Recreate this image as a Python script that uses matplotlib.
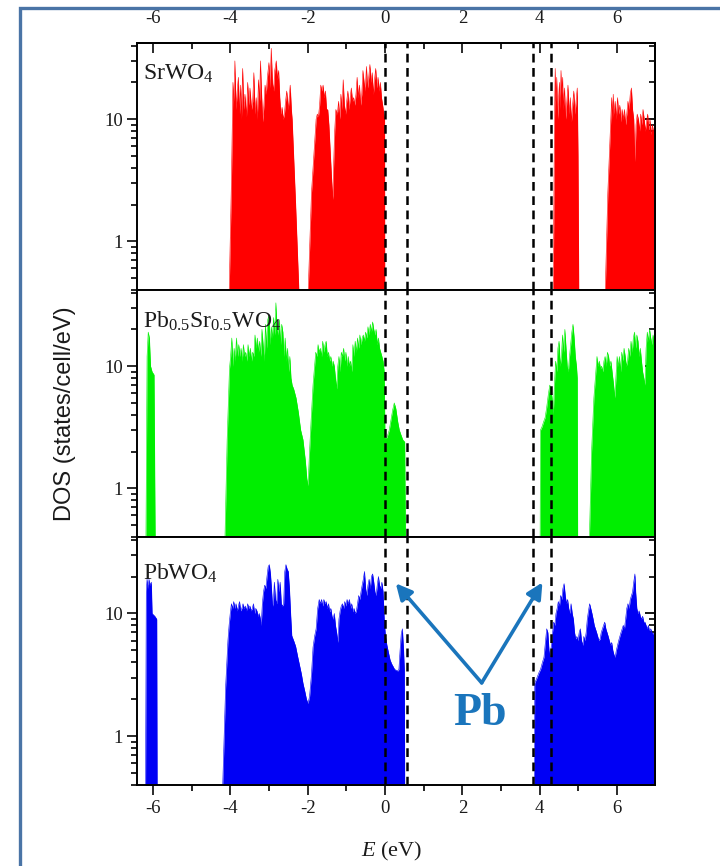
import numpy as np
import matplotlib
matplotlib.use("Agg")
import matplotlib.pyplot as plt
from matplotlib.ticker import MultipleLocator, LogLocator, NullFormatter, FuncFormatter
from matplotlib.patches import Rectangle

plt.rcParams['font.family'] = ['Liberation Serif', 'DejaVu Serif']
plt.rcParams['mathtext.fontset'] = 'custom'
plt.rcParams['mathtext.rm'] = 'Liberation Serif'
plt.rcParams['mathtext.it'] = 'Liberation Serif:italic'
plt.rcParams['mathtext.bf'] = 'Liberation Serif:bold'
plt.rcParams['axes.unicode_minus'] = False

# ---------------------------------------------------------------------------
# Total density of states, (energy in eV, DOS in states/cell/eV).
# A value of 0.01 marks an empty gap region.
# ---------------------------------------------------------------------------
srwo4_dos = np.array([
    (-4.05, 0.01), (-4.03, 0.35), (-3.97, 3), (-3.93, 20), (-3.90, 14), (-3.88, 30),
    (-3.85, 12), (-3.82, 17), (-3.79, 22), (-3.76, 11), (-3.73, 19), (-3.71, 10),
    (-3.68, 26), (-3.65, 12), (-3.62, 16), (-3.58, 10.5), (-3.55, 20), (-3.52, 13),
    (-3.49, 18), (-3.45, 12), (-3.42, 14), (-3.39, 24), (-3.36, 11), (-3.33, 15),
    (-3.30, 10), (-3.27, 21), (-3.24, 14), (-3.22, 30), (-3.19, 16), (-3.16, 9.5),
    (-3.13, 13), (-3.10, 19), (-3.07, 16), (-3.04, 22), (-3.00, 29), (-2.97, 18),
    (-2.94, 38), (-2.91, 20), (-2.88, 17), (-2.85, 25), (-2.81, 30), (-2.78, 21),
    (-2.75, 25), (-2.72, 15), (-2.69, 11), (-2.66, 12.5), (-2.63, 10), (-2.60, 11),
    (-2.57, 14), (-2.54, 17), (-2.50, 12), (-2.47, 16), (-2.45, 19), (-2.42, 12),
    (-2.40, 10), (-2.31, 2), (-2.22, 0.35), (-2.21, 0.01),
    (-2.00, 0.01), (-1.99, 0.35), (-1.90, 2.5), (-1.78, 10), (-1.75, 11), (-1.72, 10.5),
    (-1.69, 13), (-1.66, 19), (-1.63, 17), (-1.60, 19), (-1.57, 15), (-1.54, 17),
    (-1.51, 12), (-1.48, 12), (-1.45, 9), (-1.41, 5), (-1.37, 2.8), (-1.35, 2.2),
    (-1.33, 4), (-1.30, 8), (-1.27, 12), (-1.23, 11), (-1.20, 14), (-1.17, 10),
    (-1.14, 16), (-1.11, 12), (-1.08, 21), (-1.05, 13), (-1.02, 11), (-0.99, 14),
    (-0.96, 17), (-0.93, 12), (-0.90, 15), (-0.87, 18), (-0.84, 14), (-0.81, 15),
    (-0.78, 13), (-0.75, 16), (-0.72, 22), (-0.69, 15), (-0.66, 19), (-0.63, 13),
    (-0.60, 16), (-0.57, 25), (-0.54, 20), (-0.51, 17), (-0.48, 27), (-0.45, 18),
    (-0.42, 22), (-0.39, 28), (-0.36, 20), (-0.33, 24), (-0.30, 16), (-0.27, 21),
    (-0.24, 26), (-0.21, 18), (-0.18, 22), (-0.15, 17), (-0.12, 20), (-0.09, 15),
    (-0.06, 13), (-0.03, 11), (-0.01, 10), (0.00, 0.01),
    (4.34, 0.01), (4.35, 0.4), (4.38, 9), (4.40, 26), (4.42, 14), (4.44, 22),
    (4.46, 10), (4.48, 13), (4.51, 20), (4.53, 12), (4.55, 25), (4.57, 16),
    (4.59, 22), (4.61, 12), (4.64, 18), (4.67, 10), (4.70, 14), (4.73, 19),
    (4.76, 11), (4.79, 15), (4.82, 9.5), (4.85, 13), (4.88, 17), (4.91, 11),
    (4.94, 14), (4.97, 18), (4.99, 5), (5.01, 0.35), (5.02, 0.01),
    (5.68, 0.01), (5.69, 0.35), (5.76, 2.5), (5.83, 9), (5.86, 15), (5.88, 10),
    (5.90, 16), (5.92, 11), (5.95, 14), (5.98, 10), (6.01, 15), (6.04, 11),
    (6.07, 13), (6.10, 9.5), (6.13, 12), (6.16, 10), (6.19, 12), (6.22, 9),
    (6.25, 11), (6.28, 14), (6.31, 12), (6.34, 16), (6.37, 18), (6.40, 12),
    (6.43, 10), (6.46, 4.5), (6.49, 9), (6.52, 11), (6.55, 10), (6.58, 8),
    (6.61, 11), (6.64, 9), (6.67, 12), (6.70, 10), (6.73, 8), (6.76, 9.5),
    (6.79, 11), (6.82, 8), (6.85, 10), (6.88, 7.5), (6.91, 9), (6.94, 8), (6.98, 7),
])

pbsrwo4_dos = np.array([
    (-6.19, 0.01), (-6.18, 0.35), (-6.15, 12), (-6.12, 19), (-6.09, 17), (-6.06, 10),
    (-6.02, 9), (-5.97, 8.5), (-5.94, 0.35), (-5.93, 0.01),
    (-4.16, 0.01), (-4.14, 0.35), (-4.08, 2.5), (-4.02, 9.5), (-3.99, 12), (-3.96, 17),
    (-3.93, 10), (-3.90, 14), (-3.87, 11), (-3.84, 17), (-3.81, 12), (-3.78, 15),
    (-3.75, 12), (-3.72, 14), (-3.69, 11), (-3.66, 15), (-3.63, 12), (-3.60, 13),
    (-3.57, 11), (-3.54, 15), (-3.51, 12), (-3.48, 14), (-3.45, 11), (-3.42, 13),
    (-3.39, 12), (-3.36, 18), (-3.33, 14), (-3.30, 17), (-3.27, 13), (-3.24, 16),
    (-3.21, 12), (-3.18, 20), (-3.15, 15), (-3.12, 11), (-3.09, 22), (-3.06, 14),
    (-3.03, 24), (-3.00, 26), (-2.97, 15), (-2.94, 21), (-2.91, 17), (-2.88, 25),
    (-2.85, 18), (-2.82, 33), (-2.79, 20), (-2.76, 18), (-2.73, 24), (-2.70, 15),
    (-2.67, 22), (-2.64, 19), (-2.61, 12), (-2.58, 17), (-2.55, 11), (-2.52, 14),
    (-2.49, 9), (-2.46, 12), (-2.43, 8), (-2.40, 7), (-2.36, 6.5), (-2.30, 5.5),
    (-2.24, 4.2), (-2.18, 3.0), (-2.12, 2.5), (-2.06, 1.7), (-2.02, 1.2), (-1.99, 1.05),
    (-1.95, 2), (-1.91, 3.6), (-1.86, 7), (-1.82, 10), (-1.79, 13), (-1.76, 12),
    (-1.73, 15), (-1.70, 13), (-1.67, 14), (-1.64, 12), (-1.61, 16), (-1.58, 13),
    (-1.55, 15), (-1.52, 16), (-1.49, 12), (-1.46, 13), (-1.43, 11), (-1.40, 12),
    (-1.37, 10), (-1.34, 11), (-1.31, 10), (-1.28, 8), (-1.25, 6.5), (-1.22, 10),
    (-1.19, 12), (-1.16, 9), (-1.13, 13), (-1.10, 12), (-1.07, 14), (-1.04, 11),
    (-1.01, 13), (-0.98, 10), (-0.95, 12), (-0.92, 10), (-0.89, 11), (-0.86, 9),
    (-0.83, 15), (-0.80, 12), (-0.77, 16), (-0.74, 13), (-0.71, 17), (-0.68, 14),
    (-0.65, 18), (-0.62, 15), (-0.59, 17), (-0.56, 18), (-0.53, 16), (-0.50, 19),
    (-0.47, 17), (-0.44, 21), (-0.41, 18), (-0.38, 22), (-0.35, 19), (-0.32, 23),
    (-0.29, 20), (-0.26, 18), (-0.23, 20), (-0.20, 15), (-0.17, 17), (-0.14, 14),
    (-0.11, 13), (-0.08, 12), (-0.05, 11), (-0.02, 9), (0.00, 2.6), (0.05, 2.6),
    (0.11, 3.0), (0.17, 3.9), (0.20, 4.4), (0.24, 5.0), (0.28, 4.5), (0.33, 3.5),
    (0.37, 3.0), (0.42, 2.7), (0.46, 2.5), (0.51, 2.4), (0.53, 0.35), (0.54, 0.01),
    (4.00, 0.01), (4.01, 0.35), (4.02, 3.0), (4.06, 3.2), (4.10, 3.5), (4.14, 3.8),
    (4.18, 4.6), (4.22, 5.8), (4.26, 7.0), (4.29, 6.5), (4.32, 5.5), (4.35, 4.0),
    (4.38, 7), (4.41, 11), (4.44, 9), (4.47, 14), (4.50, 16), (4.53, 10),
    (4.56, 12), (4.59, 18), (4.62, 13), (4.65, 20), (4.68, 14), (4.71, 10),
    (4.74, 9), (4.77, 12), (4.80, 15), (4.83, 19), (4.86, 22), (4.89, 17),
    (4.92, 12), (4.95, 10), (4.97, 8), (4.98, 0.35), (4.99, 0.01),
    (5.27, 0.01), (5.28, 0.35), (5.34, 2), (5.40, 5.5), (5.45, 9), (5.48, 12),
    (5.51, 10), (5.54, 11), (5.57, 9.5), (5.60, 10), (5.63, 9), (5.66, 11),
    (5.69, 12), (5.72, 10), (5.75, 13), (5.78, 12), (5.81, 10), (5.84, 11),
    (5.87, 9), (5.91, 7), (5.94, 5.5), (5.97, 8), (6.00, 12), (6.03, 10),
    (6.06, 12), (6.09, 9), (6.12, 13), (6.15, 11), (6.18, 14), (6.21, 12),
    (6.24, 10), (6.27, 11), (6.30, 14), (6.33, 12), (6.36, 16), (6.39, 13),
    (6.42, 17), (6.45, 19), (6.48, 14), (6.51, 18), (6.54, 16), (6.57, 12),
    (6.60, 14), (6.63, 11), (6.66, 9), (6.69, 8), (6.72, 7), (6.75, 14),
    (6.78, 19), (6.81, 16), (6.84, 20), (6.87, 17), (6.90, 15), (6.93, 18),
    (6.96, 16), (6.98, 14),
])

pbwo4_dos = np.array([
    (-6.21, 0.01), (-6.19, 0.35), (-6.17, 15), (-6.15, 19), (-6.12, 16), (-6.10, 19),
    (-6.07, 17), (-6.04, 18), (-6.02, 10), (-5.95, 9.5), (-5.90, 9), (-5.89, 0.35),
    (-5.88, 0.01),
    (-4.22, 0.01), (-4.20, 0.35), (-4.12, 2.5), (-4.06, 6), (-4.03, 8), (-4.00, 10),
    (-3.97, 12), (-3.94, 11), (-3.91, 12.5), (-3.88, 11), (-3.85, 12), (-3.82, 10.5),
    (-3.79, 11.5), (-3.76, 12.5), (-3.73, 10.5), (-3.70, 11), (-3.67, 12), (-3.64, 11),
    (-3.61, 11.5), (-3.58, 10.5), (-3.55, 12), (-3.52, 11), (-3.49, 11.5), (-3.46, 10.5),
    (-3.43, 11), (-3.40, 12), (-3.37, 10), (-3.34, 11), (-3.31, 10.5), (-3.28, 9.5),
    (-3.25, 10), (-3.22, 9), (-3.20, 8), (-3.17, 12), (-3.14, 15), (-3.11, 17),
    (-3.08, 16), (-3.05, 20), (-3.02, 24), (-2.99, 25), (-2.96, 21), (-2.94, 17),
    (-2.91, 12), (-2.89, 11.5), (-2.86, 18), (-2.83, 13), (-2.80, 12), (-2.77, 19),
    (-2.74, 15), (-2.71, 18), (-2.68, 12), (-2.65, 11.5), (-2.62, 12), (-2.59, 22),
    (-2.56, 25), (-2.53, 23), (-2.50, 22), (-2.47, 16), (-2.44, 10), (-2.41, 6.6),
    (-2.36, 6.0), (-2.31, 5.4), (-2.26, 4.5), (-2.21, 3.8), (-2.16, 3.2), (-2.12, 2.7),
    (-2.07, 2.3), (-2.03, 2.0), (-1.99, 1.85), (-1.95, 2.1), (-1.90, 3.2), (-1.86, 5.3),
    (-1.82, 6.5), (-1.78, 7.5), (-1.74, 11), (-1.70, 13), (-1.67, 12), (-1.64, 13),
    (-1.61, 11.5), (-1.58, 13), (-1.55, 12), (-1.52, 12.5), (-1.49, 11), (-1.46, 12),
    (-1.43, 10.3), (-1.40, 11), (-1.37, 9.5), (-1.34, 9), (-1.31, 10), (-1.28, 8),
    (-1.25, 7), (-1.22, 5.8), (-1.19, 9), (-1.16, 10.5), (-1.13, 11.5), (-1.10, 12),
    (-1.07, 11), (-1.04, 12.5), (-1.01, 11.5), (-0.98, 13), (-0.95, 12), (-0.92, 13),
    (-0.89, 11), (-0.86, 12), (-0.83, 10.3), (-0.80, 11), (-0.77, 10), (-0.74, 10.5),
    (-0.71, 12), (-0.68, 14), (-0.65, 13), (-0.62, 15), (-0.59, 17), (-0.56, 19),
    (-0.53, 22), (-0.50, 16), (-0.47, 14), (-0.44, 17), (-0.41, 19), (-0.38, 16),
    (-0.35, 20), (-0.32, 21), (-0.29, 18), (-0.26, 15), (-0.23, 14), (-0.20, 17),
    (-0.17, 20), (-0.14, 17), (-0.11, 16), (-0.08, 18), (-0.05, 15), (-0.02, 9),
    (0.01, 6.6), (0.05, 5.5), (0.09, 4.8), (0.13, 4.2), (0.17, 3.9), (0.21, 3.7),
    (0.25, 3.5), (0.29, 3.45), (0.33, 3.4), (0.36, 3.5), (0.39, 5), (0.42, 6.8),
    (0.45, 7.5), (0.48, 5), (0.50, 3.5), (0.51, 0.35), (0.52, 0.01),
    (3.85, 0.01), (3.86, 0.35), (3.87, 2.7), (3.93, 3.0), (3.98, 3.3), (4.02, 3.5),
    (4.07, 4.0), (4.11, 4.4), (4.15, 6.0), (4.18, 7.5), (4.21, 7.0), (4.24, 5.0),
    (4.27, 4.4), (4.30, 5.5), (4.33, 7), (4.36, 8.5), (4.39, 8), (4.42, 10),
    (4.45, 11), (4.48, 12.5), (4.51, 11.5), (4.54, 14), (4.57, 13), (4.60, 16),
    (4.63, 17.5), (4.66, 14), (4.69, 12), (4.72, 13), (4.75, 11), (4.78, 10),
    (4.81, 12), (4.84, 10), (4.87, 9), (4.90, 7), (4.93, 6.2), (4.96, 6.5),
    (4.99, 6), (5.02, 7), (5.05, 7.5), (5.08, 6), (5.11, 5.5), (5.14, 6.5),
    (5.17, 6), (5.20, 7), (5.23, 9), (5.26, 10.5), (5.29, 12), (5.32, 11),
    (5.35, 10), (5.38, 9), (5.41, 8), (5.44, 7.5), (5.47, 7), (5.50, 6.5),
    (5.53, 6), (5.56, 6.2), (5.59, 7), (5.62, 7.5), (5.65, 8), (5.68, 8.5),
    (5.71, 7.5), (5.74, 7), (5.77, 6.5), (5.80, 6), (5.83, 5.5), (5.86, 5.8),
    (5.89, 5), (5.92, 4.6), (5.95, 4.4), (5.98, 5), (6.01, 5.5), (6.04, 6),
    (6.07, 6.5), (6.10, 7), (6.13, 7.5), (6.16, 8), (6.19, 7.5), (6.22, 9),
    (6.25, 11), (6.28, 12), (6.31, 11), (6.34, 13), (6.37, 14), (6.40, 15),
    (6.43, 18), (6.46, 21), (6.48, 15), (6.51, 11), (6.54, 10), (6.57, 10.5),
    (6.60, 9.5), (6.63, 9), (6.66, 9.5), (6.69, 8.5), (6.72, 8.5), (6.75, 8),
    (6.78, 7.5), (6.81, 8), (6.84, 7), (6.87, 7.5), (6.90, 7), (6.93, 6.8),
    (6.96, 7), (6.98, 6.6),
])

panel_labels = ['SrWO$_4$', 'Pb$_{0.5}$Sr$_{0.5}$WO$_4$', 'PbWO$_4$']
panel_colors = ['#ff0000', '#00ee00', '#0000f5']
panel_data = [srwo4_dos, pbsrwo4_dos, pbwo4_dos]

# band-edge markers (eV)
edge_lines = [0.0, 0.56, 3.82, 4.29]
x_ticks = [-6, -4, -2, 0, 2, 4, 6]

E_MIN, E_MAX = -6.41, 6.98
DOS_MIN, DOS_MAX = 0.40, 42.0

fig = plt.figure(figsize=(7.2, 8.66), dpi=100)

left, width = 137 / 720, 518 / 720
tops_px = [43, 290, 537]
bots_px = [290, 537, 785]
axes = []
for t, b in zip(tops_px, bots_px):
    ax = fig.add_axes([left, 1 - b / 866, width, (b - t) / 866])
    axes.append(ax)

tick_color = '#1a1a1a'
for i, (ax, data, col, lab) in enumerate(zip(axes, panel_data, panel_colors, panel_labels)):
    ax.fill_between(data[:, 0], 1e-3, data[:, 1], color=col, lw=0, zorder=2)
    ax.plot(data[:, 0], data[:, 1], color=col, lw=0.4, zorder=2)
    ax.set_yscale('log')
    ax.set_xlim(E_MIN, E_MAX)
    ax.set_ylim(DOS_MIN, DOS_MAX)
    for e in edge_lines:
        ax.axvline(e, color='black', lw=1.8, ls=(0, (3.5, 2.2)), zorder=3)

    for s in ax.spines.values():
        s.set_linewidth(1.4)
        s.set_zorder(4)

    ax.xaxis.set_major_locator(MultipleLocator(2))
    ax.xaxis.set_minor_locator(MultipleLocator(1))
    ax.set_xticks(x_ticks)
    ax.tick_params(axis='x', which='major', direction='out', length=7, width=1.3,
                   labelsize=13.5, colors=tick_color, pad=4,
                   labelbottom=(i == 2), top=False)
    ax.tick_params(axis='x', which='minor', direction='out', length=4, width=1.2,
                   top=False)

    ax.yaxis.set_major_locator(LogLocator(base=10))
    ax.yaxis.set_minor_locator(LogLocator(base=10, subs=np.arange(2, 10)))
    ax.yaxis.set_major_formatter(FuncFormatter(lambda v, _: f'{v:g}'))
    ax.yaxis.set_minor_formatter(NullFormatter())
    ax.tick_params(axis='y', which='major', direction='out', length=7, width=1.3,
                   labelsize=13.5, colors=tick_color, pad=3)
    ax.tick_params(axis='y', which='minor', direction='out', length=4, width=1.2)

    ry = ax.secondary_yaxis('right')
    ry.yaxis.set_major_locator(LogLocator(base=10))
    ry.yaxis.set_minor_locator(LogLocator(base=10, subs=np.arange(2, 10)))
    ry.yaxis.set_major_formatter(NullFormatter())
    ry.yaxis.set_minor_formatter(NullFormatter())
    ry.tick_params(which='major', direction='in', length=7, width=1.3)
    ry.tick_params(which='minor', direction='in', length=4, width=1.2)
    ry.spines['right'].set_linewidth(1.4)

    ax.text(0.012, 0.875 if i < 2 else 0.855, lab, transform=ax.transAxes,
            fontsize=17, ha='left', va='center', color='#1a1a1a', zorder=5)

# top energy axis on the first panel
tx = axes[0].secondary_xaxis('top')
tx.set_xticks(x_ticks)
tx.xaxis.set_minor_locator(MultipleLocator(1))
tx.tick_params(which='major', direction='in', length=7, width=1.3,
               labelsize=13.5, colors=tick_color, pad=11.5)
tx.tick_params(which='minor', direction='in', length=4, width=1.2)
tx.spines['top'].set_linewidth(1.4)

# Pb-derived states annotation
pb_color = '#1a75bc'
axb = axes[2]
for tip in [(0.28, 17.6), (4.07, 17.9)]:
    axb.annotate('', xy=tip, xytext=(2.50, 2.72),
                 arrowprops=dict(arrowstyle='-|>', color=pb_color, lw=2.6,
                                 mutation_scale=24, shrinkA=0, shrinkB=0),
                 zorder=6)
axb.text(2.45, 1.52, 'Pb', fontsize=33, fontweight='bold', color=pb_color,
         ha='center', va='center', zorder=6)

fig.text(65 / 720, 1 - 414 / 866, 'DOS (states/cell/eV)', rotation=90,
         ha='center', va='center', fontsize=17, family='Liberation Sans',
         color='#1a1a1a')
fig.text(392 / 720, 1 - 851 / 866, '$E$ (eV)', ha='center', va='center',
         fontsize=16, color='#1a1a1a')

# outer frame
fig.patches.append(Rectangle((20 / 720, -0.5), 2.0, 1 - 8 / 866 + 0.5,
                             transform=fig.transFigure, fill=False,
                             edgecolor='#4a74a6', lw=2.4))

fig.savefig('out.png', dpi=100)
